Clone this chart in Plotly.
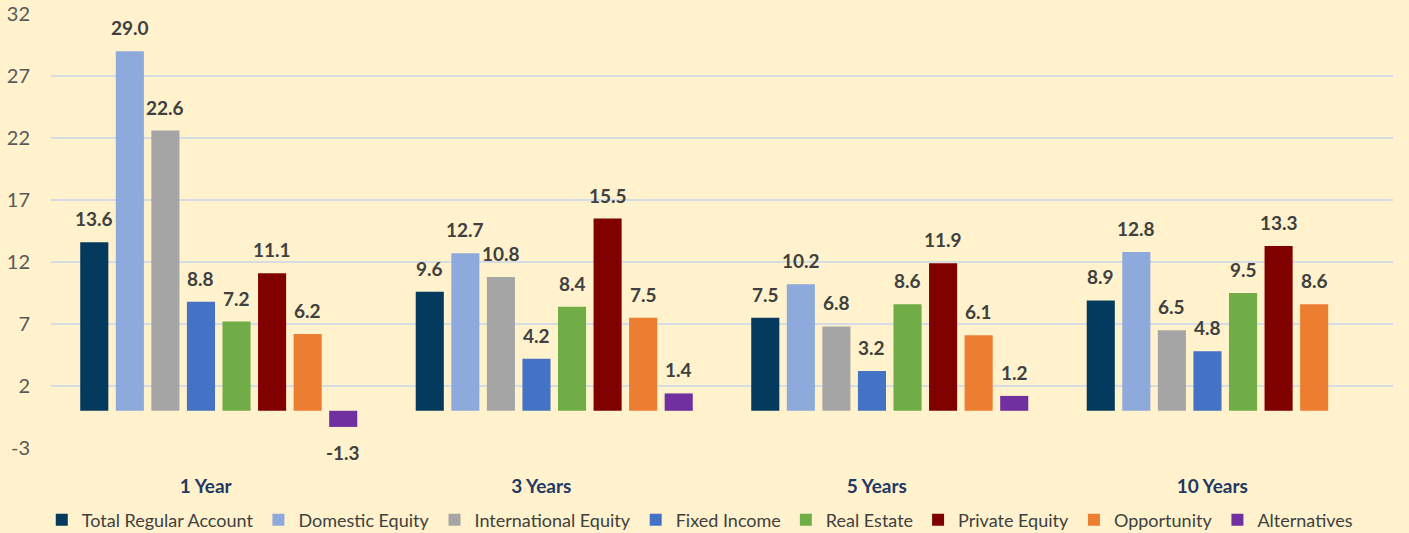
import plotly.graph_objects as go

periods = ["1 Year", "3 Years", "5 Years", "10 Years"]
series_names = ["Total Regular Account", "Domestic Equity", "International Equity",
                "Fixed Income", "Real Estate", "Private Equity", "Opportunity", "Alternatives"]
total_regular = [13.6, 9.6, 7.5, 8.9]
domestic_equity = [29.0, 12.7, 10.2, 12.8]
international_equity = [22.6, 10.8, 6.8, 6.5]
fixed_income = [8.8, 4.2, 3.2, 4.8]
real_estate = [7.2, 8.4, 8.6, 9.5]
private_equity = [11.1, 15.5, 11.9, 13.3]
opportunity = [6.2, 7.5, 6.1, 8.6]
alternatives = [-1.3, 1.4, 1.2, None]
colors = ["#053A5F", "#8EA9DB", "#A5A5A5", "#4472C4", "#70AD47", "#800000", "#ED7D31", "#7030A0"]
y_ticks = [-3, 2, 7, 12, 17, 22, 27, 32]
y_tick_labels = ["-3", "2", "7", "12", "17", "22", "27", "32"]

all_series = [total_regular, domestic_equity, international_equity, fixed_income,
              real_estate, private_equity, opportunity, alternatives]

BARGAP = 0.152
n = len(all_series)
slot = (1 - BARGAP) / n
FONT = "Lato, Open Sans, sans-serif"

fig = go.Figure()
annotations = []
for i, (name, vals, col) in enumerate(zip(series_names, all_series, colors)):
    fig.add_trace(go.Bar(
        name=name, x=list(range(len(periods))), y=vals,
        marker=dict(color=col, line=dict(width=0)),
    ))
    for g, v in enumerate(vals):
        if v is None:
            continue
        annotations.append(dict(
            x=g + (i - (n - 1) / 2) * slot, y=v, xref="x", yref="y",
            text=f"<b>{v:.1f}</b>", showarrow=False,
            yanchor="bottom" if v >= 0 else "top",
            yshift=10 if v >= 0 else -12,
            font=dict(family=FONT, size=19, color="#404040"),
        ))

fig.update_layout(
    width=1409, height=533, autosize=False,
    paper_bgcolor="#FFF2CC", plot_bgcolor="#FFF2CC",
    margin=dict(l=51, r=16, t=14, b=85, autoexpand=False),
    barmode="group", bargap=BARGAP, bargroupgap=0.21,
    annotations=annotations,
    font=dict(family=FONT, size=16, color="#595959"),
    xaxis=dict(
        tickmode="array", tickvals=list(range(len(periods))),
        ticktext=[f"<b>{p}</b>" for p in periods],
        tickfont=dict(size=19, color="#1F3864"),
        range=[-0.5, len(periods) - 0.5], showgrid=False, zeroline=False,
        showline=False, ticks="", ticklabelstandoff=25, ticklabelshift=-13,
    ),
    yaxis=dict(
        range=[-3, 32], tickmode="array", tickvals=y_ticks, ticktext=y_tick_labels,
        showgrid=True, gridcolor="#D5DCE4", gridwidth=1.5, zeroline=False,
        tickfont=dict(size=20, color="#595959"), ticks="", ticklabelstandoff=20,
    ),
    legend=dict(
        orientation="h", xref="container", x=0.497, xanchor="center",
        y=-0.166, yanchor="middle", font=dict(size=18, color="#404040"),
        itemwidth=30, tracegroupgap=0, bgcolor="rgba(0,0,0,0)",
    ),
)

fig.write_html("out.html", config={"displayModeBar": False},
               post_script="document.body.style.margin='0';")
